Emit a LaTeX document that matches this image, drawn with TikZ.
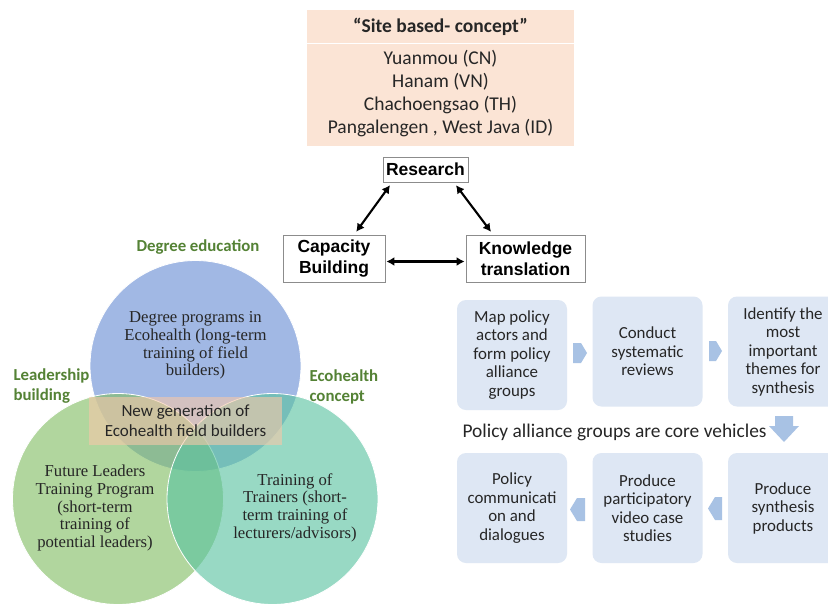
\documentclass[tikz,border=0pt]{standalone}
\usepackage{fontspec}
\setmainfont{Carlito}
\newfontfamily\arialf{Liberation Sans}
\newfontfamily\timesf{Liberation Serif}
\usetikzlibrary{arrows.meta}
\definecolor{peach}{RGB}{251,228,213}
\definecolor{peachd}{RGB}{246,200,168}
\definecolor{bluec}{RGB}{104,142,212}
\definecolor{greenc}{RGB}{130,190,100}
\definecolor{tealc}{RGB}{90,195,160}
\definecolor{flowc}{RGB}{222,231,244}
\definecolor{arrc}{RGB}{168,194,228}
\definecolor{lblc}{RGB}{84,130,53}
\definecolor{txtc}{RGB}{38,38,38}
\tikzset{
  kbox/.style={draw=black!45, line width=0.8pt, fill=white, align=center, inner sep=0pt,
    font=\arialf\bfseries\fontsize{17.5}{20.5}\selectfont},
  dbl/.style={{Latex[length=8pt,width=9pt]}-{Latex[length=8pt,width=9pt]}, line width=2.1pt, shorten <=1pt, shorten >=1pt},
  venn/.style={circle, minimum size=211pt, inner sep=0pt, draw=white, line width=0.8pt, fill opacity=0.62},
  ctext/.style={align=center, text=txtc, font=\timesf\fontsize{16.7}{17.6}\selectfont},
  lbl/.style={text=lblc, font=\bfseries\fontsize{16.8}{20}\selectfont},
  fbox/.style={rounded corners=9pt, fill=flowc, minimum width=110pt, minimum height=110pt, inner sep=0pt,
    align=center, text=txtc, font=\fontsize{16.9}{18.5}\selectfont},
  chev/.style={fill=arrc}
}
\begin{document}
\begin{tikzpicture}[x=1pt,y=-1pt]
\useasboundingbox (0,0) rectangle (828,603);
\clip (0,0) rectangle (828,603);
\fill[white] (0,0) rectangle (828,603);

% site box
\node[fill=peach, minimum width=267pt, minimum height=136pt, inner sep=0pt, anchor=north west] (site) at (307,10) {};
\draw[white, line width=1pt] (307,43) -- (574,43);
\node[text=txtc, font=\bfseries\fontsize{19.5}{21}\selectfont] (sitehead) at (440.5,27) {“Site based- concept”};
\node[text=txtc, align=center, font=\fontsize{19.5}{23}\selectfont] (sites) at (440.5,93.5) {Yuanmou (CN)\\Hanam (VN)\\Chachoengsao (TH)\\Pangalengen , West Java (ID)};

% triangle
\node[kbox, minimum width=85pt, minimum height=25pt] (res) at (425.5,169.5) {Research};
\node[kbox, minimum width=102pt, minimum height=47pt] (cb) at (334,258.5) {Capacity\\Building};
\node[kbox, minimum width=119pt, minimum height=47pt] (kt) at (525.5,258.5) {Knowledge\\translation};
\draw[dbl] ([xshift=8pt,yshift=-2pt]res.south west) -- ([xshift=73pt,yshift=2pt]cb.north west);
\draw[dbl] ([xshift=-13pt,yshift=-2pt]res.south east) -- ([xshift=26pt,yshift=2pt]kt.north west);
\draw[dbl] ([yshift=-3pt]cb.east) -- ([yshift=-3pt]kt.west);

% venn
\node[venn, fill=bluec] (deg) at (195.5,366) {};
\node[venn, fill=greenc] (lead) at (118,499) {};
\node[venn, fill=tealc] (eco) at (272.5,499) {};
\node[fill=peachd, fill opacity=0.6, minimum width=193pt, minimum height=48pt, inner sep=0pt] (ngen) at (185.5,421) {};
\node[align=center, text=txtc, font=\fontsize{17}{20}\selectfont] (ngent) at (185.5,421) {New generation of\\Ecohealth field builders};
\node[ctext] (degt) at (195.5,345.5) {Degree programs in\\Ecohealth (long-term\\training of field\\builders)};
\node[ctext] (leadt) at (95,508) {Future Leaders\\Training Program\\(short-term\\training of\\potential leaders)};
\node[ctext] (ecot) at (295,507.5) {Training of\\Trainers (short-\\term training of\\lecturers/advisors)};
\node[lbl] (degl) at (198,247) {Degree education};
\node[lbl, align=left, anchor=west] (leadl) at (10,386) {Leadership\\building};
\node[lbl, align=left, anchor=west] (ecol) at (306,386.5) {Ecohealth\\concept};

% flow
\node[fbox] (b1) at (512,355) {Map policy\\actors and\\form policy\\alliance\\groups};
\node[fbox] (b2) at (647.5,351.5) {Conduct\\systematic\\reviews};
\node[fbox] (b3) at (783,351.5) {Identify the\\most\\important\\themes for\\synthesis};
\node[fbox] (c1) at (512,508) {Policy\\communicati\\on and\\dialogues};
\node[fbox] (c2) at (647.5,508) {Produce\\participatory\\video case\\studies};
\node[fbox] (c3) at (783,508) {Produce\\synthesis\\products};
\node[anchor=west, text=txtc, font=\fontsize{19.4}{20}\selectfont] (core) at (459,432) {Policy alliance groups are core vehicles};

% block arrows
\fill[chev] (573,343) -- (581,343) -- (587,353) -- (581,363) -- (573,363) -- cycle;
\fill[chev] (709,341) -- (716,341) -- (722,351) -- (716,361) -- (709,361) -- cycle;
\fill[chev] (775,416) -- (793,416) -- (793,426) -- (799,426) -- (784,442) -- (769,426) -- (775,426) -- cycle;
\fill[chev] (585,498) -- (577,498) -- (570,509.5) -- (577,521) -- (585,521) -- cycle;
\fill[chev] (722,497) -- (715,497) -- (708,508.5) -- (715,520) -- (722,520) -- cycle;
\end{tikzpicture}
\end{document}
